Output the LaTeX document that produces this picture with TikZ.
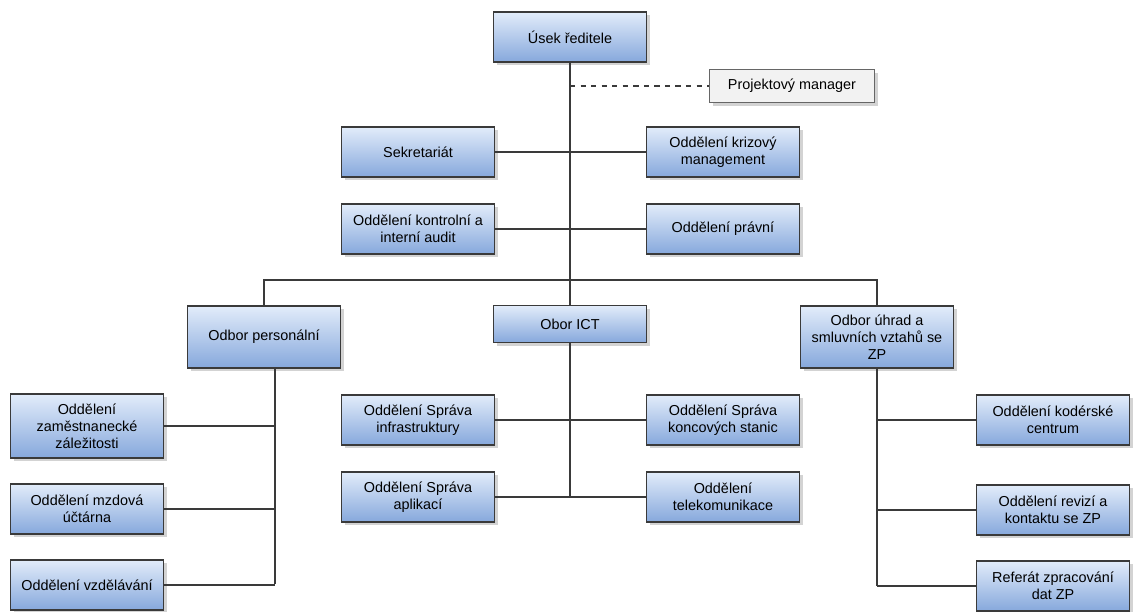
\documentclass[tikz,border=0pt]{standalone}
\usepackage{fontspec}
\setmainfont{Liberation Sans}
\usetikzlibrary{shadows}
\definecolor{boxtop}{HTML}{E2ECFA}
\definecolor{boxbot}{HTML}{86A8DC}
\definecolor{linegray}{HTML}{3A3A3A}
\definecolor{pmfill}{HTML}{F2F2F2}
\tikzset{
  orgbox/.style={draw=linegray, line width=0.8pt, top color=boxtop, bottom color=boxbot,
    minimum width=3.06cm, minimum height=1cm, align=center, inner sep=1pt, text=black,
    font=\fontsize{8.2}{9.8}\selectfont,
    drop shadow={opacity=0.35, shadow xshift=1.8pt, shadow yshift=-1.8pt}},
  pmbox/.style={draw=gray!80!black, line width=0.8pt, fill=pmfill,
    minimum width=3.3cm, minimum height=0.66cm, align=center, inner sep=1pt, text=black,
    font=\fontsize{8.2}{9.8}\selectfont,
    drop shadow={opacity=0.35, shadow xshift=1.8pt, shadow yshift=-1.8pt}},
  link/.style={draw=linegray, line width=0.8pt}
}
\begin{document}
\begin{tikzpicture}[x=0.02cm, y=-0.02cm]
  \useasboundingbox (0,0) rectangle (1134,612);
  \coordinate (bus) at (570,280);
  \coordinate (ptrunk) at (275,584);

  \node[orgbox] (usek) at (570,37) {Úsek ředitele};
  \node[pmbox] (pm) at (792,86) {Projektový manager};

  \node[orgbox] (sekr) at (418,152) {Sekretariát};
  \node[orgbox] (krize) at (723,152) {Oddělení krizový\\management};
  \node[orgbox] (audit) at (418,229) {Oddělení kontrolní a\\interní audit};
  \node[orgbox] (pravni) at (723,229) {Oddělení právní};

  \node[orgbox, minimum height=1.24cm] (personal) at (264,337) {Odbor personální};
  \node[orgbox, minimum height=0.74cm] (ict) at (570,324) {Obor ICT};
  \node[orgbox, minimum height=1.24cm] (uhrady) at (877,337) {Odbor úhrad a\\smluvních vztahů se\\ZP};

  \node[orgbox] (infra) at (418,420) {Oddělení Správa\\infrastruktury};
  \node[orgbox] (konc) at (723,420) {Oddělení Správa\\koncových stanic};
  \node[orgbox] (apl) at (418,497) {Oddělení Správa\\aplikací};
  \node[orgbox] (tele) at (723,497) {Oddělení\\telekomunikace};

  \node[orgbox, minimum height=1.28cm] (zam) at (87,426) {Oddělení\\zaměstnanecké\\záležitosti};
  \node[orgbox] (mzdy) at (87,509) {Oddělení mzdová\\účtárna};
  \node[orgbox] (vzdel) at (87,585) {Oddělení vzdělávání};

  \node[orgbox] (kod) at (1053,420) {Oddělení kodérské\\centrum};
  \node[orgbox] (revize) at (1053,510) {Oddělení revizí a\\kontaktu se ZP};
  \node[orgbox] (ref) at (1053,586) {Referát zpracování\\dat ZP};

  \draw[link] (usek.south) -- (usek.south |- bus);
  \draw[link, dashed] (usek.south |- pm.west) -- (pm.west);
  \draw[link] (sekr.east) -- (krize.west);
  \draw[link] (audit.east) -- (pravni.west);
  \draw[link] (personal.north) -- (personal.north |- bus) -- (uhrady.north |- bus) -- (uhrady.north);
  \draw[link] (ict.north) -- (ict.north |- bus);

  \draw[link] (ict.south) -- (ict.south |- apl.east);
  \draw[link] (infra.east) -- (konc.west);
  \draw[link] (apl.east) -- (tele.west);

  \draw[link] (ptrunk |- personal.south) -- (ptrunk);
  \draw[link] (zam.east) -- (zam.east -| ptrunk);
  \draw[link] (mzdy.east) -- (mzdy.east -| ptrunk);
  \draw[link] (vzdel.east) -- (vzdel.east -| ptrunk);

  \draw[link] (uhrady.south) -- (uhrady.south |- ref.west);
  \draw[link] (kod.west) -- (kod.west -| uhrady.south);
  \draw[link] (revize.west) -- (revize.west -| uhrady.south);
  \draw[link] (ref.west) -- (ref.west -| uhrady.south);
\end{tikzpicture}
\end{document}
